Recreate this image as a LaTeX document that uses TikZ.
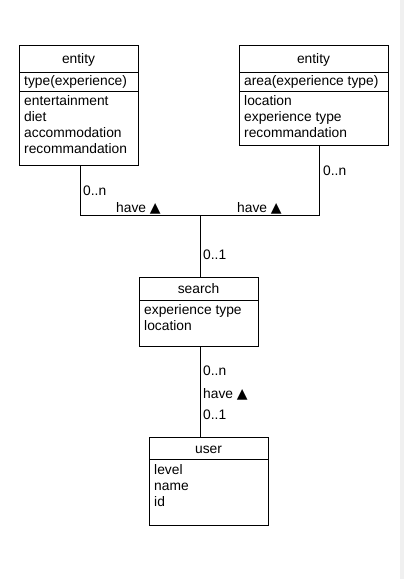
\documentclass[tikz,border=0pt]{standalone}
\usepackage{fontspec}
\setmainfont{Liberation Sans}
\newfontfamily\symfont{DejaVu Sans}
\newcommand{\tri}{{\symfont\fontsize{14}{16}\selectfont ▲}}
\begin{document}
\begin{tikzpicture}[x=1pt,y=-1pt,
  boxn/.style={draw, line width=1pt, inner sep=0pt, outer sep=0pt, anchor=north west},
  sep/.style={line width=1pt},
  conn/.style={line width=1pt},
  txt/.style={anchor=west, inner sep=0pt, text height=10pt, text depth=3pt, font=\fontsize{13.8}{16}\selectfont},
  hdr/.style={anchor=center, inner sep=0pt, text height=10pt, text depth=3pt, font=\fontsize{13.8}{16}\selectfont}]
\useasboundingbox (0,0) rectangle (404,579);
\fill[black!6] (400,0) rectangle (404,579);
% left entity
\node[boxn, minimum width=119pt, minimum height=120pt] (e1) at (19,45) {};
\draw[sep] (e1.north west) ++(0,27) -- ++(119,0);
\draw[sep] (e1.north west) ++(0,46) -- ++(119,0);
\node[hdr] (e1h) at (78.5,60) {entity};
\node[txt] (e1a) at (24,82) {type(experience)};
\node[txt] (e1b) at (24,102) {entertainment};
\node[txt] (e1c) at (24,118) {diet};
\node[txt] (e1d) at (24,134) {accommodation};
\node[txt] (e1e) at (24,150) {recommandation};
% right entity
\node[boxn, minimum width=149pt, minimum height=100pt] (e2) at (239,45) {};
\draw[sep] (e2.north west) ++(0,27) -- ++(149,0);
\draw[sep] (e2.north west) ++(0,46) -- ++(149,0);
\node[hdr] (e2h) at (313.5,60) {entity};
\node[txt] (e2a) at (244,82) {area(experience type)};
\node[txt] (e2b) at (244,102) {location};
\node[txt] (e2c) at (244,118) {experience type};
\node[txt] (e2d) at (244,134) {recommandation};
% search
\node[boxn, minimum width=119pt, minimum height=69pt] (s) at (139,277) {};
\draw[sep] (s.north west) ++(0,23) -- ++(119,0);
\node[hdr] (sh) at (198.5,290) {search};
\node[txt] (sa) at (144,311) {experience type};
\node[txt] (sb) at (144,327) {location};
% user
\node[boxn, minimum width=119pt, minimum height=88pt] (u) at (149,437) {};
\draw[sep] (u.north west) ++(0,22) -- ++(119,0);
\node[hdr] (uh) at (208.5,450) {user};
\node[txt] (ua) at (154,471) {level};
\node[txt] (ub) at (154,487) {name};
\node[txt] (uc) at (154,503) {id};
% connectors
\coordinate (p1) at (80,215);
\coordinate (p2) at (319,215);
\coordinate (j) at (200,215);
\draw[conn] (e1.south -| p1) -- (p1) -- (p2) -- (e2.south -| p2);
\draw[conn] (j) -- (s.north -| j);
\draw[conn] (s.south -| j) -- (u.north -| j);
% labels
\node[txt] (l1) at (83,192) {0..n};
\node[txt] (l2) at (116,209) {have \tri};
\node[txt] (l3) at (237,209) {have \tri};
\node[txt] (l4) at (323,172) {0..n};
\node[txt] (l5) at (203,256) {0..1};
\node[txt] (l6) at (203,372) {0..n};
\node[txt] (l7) at (203,395) {have \tri};
\node[txt] (l8) at (203,416) {0..1};
\end{tikzpicture}
\end{document}
